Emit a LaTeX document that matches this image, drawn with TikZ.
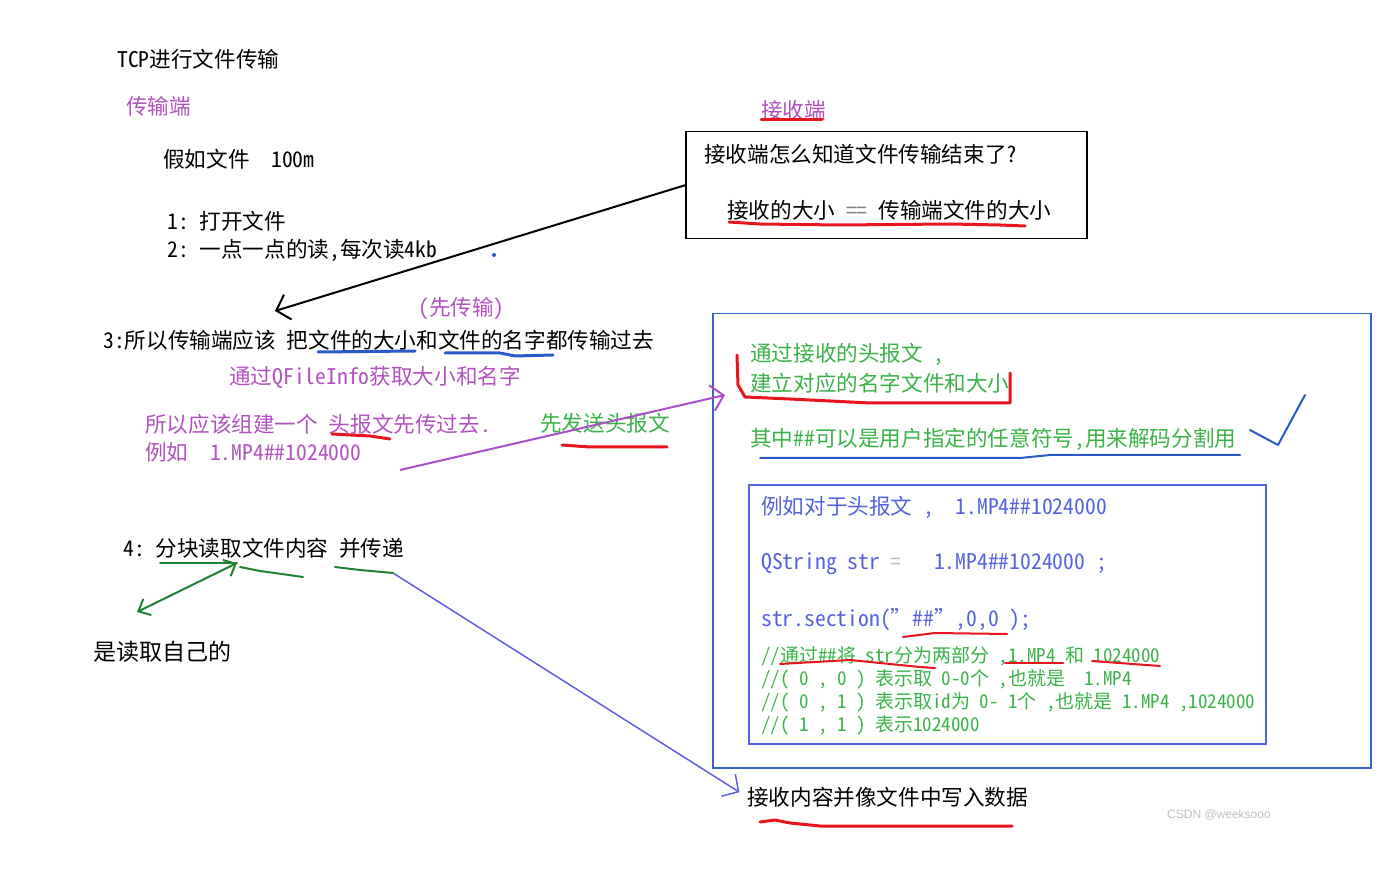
\documentclass[tikz,border=0pt]{standalone}
\usepackage{fontspec}
\setmainfont{Noto Sans CJK SC}[RawFeature=+hwid]
\newfontfamily\markfont{Liberation Sans}
\usetikzlibrary{positioning,arrows.meta}
\definecolor{notepurple}{RGB}{178,82,192}
\definecolor{notegreen}{RGB}{58,178,72}
\definecolor{codeblue}{RGB}{84,98,222}
\definecolor{boxblue}{RGB}{52,100,200}
\definecolor{penred}{RGB}{232,20,30}
\definecolor{penblue}{RGB}{40,90,200}
\definecolor{pengreen}{RGB}{30,130,50}
\definecolor{penviolet}{RGB}{95,95,225}
\definecolor{penpurple}{RGB}{170,80,200}
\definecolor{markgray}{RGB}{190,190,190}
\newcommand{\fs}[1]{\fontsize{#1}{#1}\selectfont}

\begin{document}
\begin{tikzpicture}[x=1pt,y=-1pt, every node/.style={anchor=west,inner sep=0pt,font=\fs{21.6}},
    pen/.style={line width=3pt,line cap=round,line join=round},
    note/.style={text=notegreen,font=\fs{19}},
    handtip/.style={-{Straight Barb[length=12pt,width=26pt]}}]
  \useasboundingbox (0,0) rectangle (1390,874);

  % sender side
  \node (title) at (117,59) {TCP进行文件传输};
  \node[text=notepurple] (sender) at (126,106) {传输端};
  \node (suppose) at (163,159) {假如文件\quad 100m};
  \node (stepOne) at (167,221) {1:\ 打开文件};
  \node (stepTwo) at (167,250) {2:\ 一点一点的读,每次读4kb};
  \fill[penblue] (494,255) circle (2);
  \node[text=notepurple] (first) at (418,309) {（先传输）};
  \node (stepThree) at (103,340) {3:所以传输端应该 把文件的大小和文件的名字都传输过去};
  \node[text=notepurple] (qinfo) at (229,377) {通过QFileInfo获取大小和名字};
  \node[text=notepurple] (header) at (145,424) {所以应该组建一个 头报文先传过去.};
  \node[text=notepurple] (example) at (145,452) {例如\quad 1.MP4\#\#1024000};
  \node[text=notegreen] (sendHdr) at (540,423) {先发送头报文};
  \node (stepFour) at (123,548) {4:\ 分块读取文件内容 并传递};
  \node (own) at (93,652) {\fs{23}是读取自己的};

  % receiver side
  \node[text=notepurple] (receiver) at (761,110) {接收端};
  \node[draw,line width=1.5pt,minimum width=401,minimum height=107,anchor=north west] (askbox) at (685,131) {};
  \node (askOne) at (704,154) {接收端怎么知道文件传输结束了?};
  \node (askTwo) at (727,210) {接收的大小 {\color{gray}==} 传输端文件的大小};

  \node[draw=boxblue,line width=1.5pt,minimum width=658,minimum height=454,anchor=north west] (recvbox) at (712,313) {};
  \node[text=notegreen] (buildOne) at (750,354) {通过接收的头报文 ，};
  \node[text=notegreen] (buildTwo) at (750,383) {建立对应的名字文件和大小};
  \node[text=notegreen] (anySym) at (750,439) {其中\#\#可以是用户指定的任意符号,用来解码分割用};

  \node[draw=codeblue,line width=1.5pt,minimum width=517,minimum height=259,anchor=north west] (codebox) at (748,484) {};
  \node[text=codeblue] (codeA) at (761,507) {例如对于头报文 ，\quad 1.MP4\#\#1024000};
  \node[text=codeblue] (codeB) at (761,564) {QString str {\color{markgray}=}\quad\ 1.MP4\#\#1024000 ;};
  \node[text=codeblue] (codeC) at (761,620) {str.section("\#\#",0,0 );};
  \node[note] (noteA) at (761,656) {//通过\#\#将 str分为两部分 ,1.MP4 和 1024000};
  \node[note] (noteB) at (761,679) {//( 0 , 0 ) 表示取 0-0个 ,也就是\ \ 1.MP4};
  \node[note] (noteC) at (761,702) {//( 0 , 1 ) 表示取id为 0- 1个 ,也就是 1.MP4 ,1024000};
  \node[note] (noteD) at (761,725) {//( 1 , 1 ) 表示1024000};

  \node (data) at (747,797) {接收内容并像文件中写入数据};
  \node[text=markgray,font=\markfont\fs{12}] (csdn) at (1167,815) {CSDN @weeksooo};

  % hand drawn arrows
  \coordinate (askTip) at (275,311);
  \coordinate (hdrStart) at (400,470);
  \coordinate (hdrTip) at (725,395);
  \coordinate (sendStart) at (393,573);
  \coordinate (readA) at (137,612);
  \coordinate (readB) at (237,563);
  \draw[line width=2pt,handtip] (askbox.west) -- (askTip);
  \draw[penpurple,line width=2pt,handtip] (hdrStart) -- (hdrTip);
  \draw[penviolet,line width=1.5pt,handtip,shorten >=9pt] (sendStart) -- (data.west);
  \draw[pengreen,line width=2pt,{Straight Barb[length=10pt,width=18pt]}-{Straight Barb[length=10pt,width=18pt]}] (readA) -- (readB);

  % pen marks
  \draw[pen,penred] (761,120) -- (822,120);
  \draw[pen,penred] (729,222) -- (760,224) -- (840,225) -- (950,224) -- (1000,225) -- (1025,226);
  \draw[pen,penblue] (318,352) -- (415,351);
  \draw[pen,penblue] (445,353) -- (500,353) -- (515,356) -- (553,355);
  \draw[pen,penred] (332,434) -- (370,436) -- (390,439);
  \draw[pen,penred] (562,445) -- (590,447) -- (640,447) -- (667,447);
  \draw[pen,penred] (737,355) -- (738,385) -- (745,397) -- (790,399) -- (870,403) -- (1010,403) -- (1010,373);
  \draw[pen,penblue,line width=2pt] (760,458) -- (1020,458) -- (1050,455) -- (1240,455);
  \draw[pen,penblue,line width=2pt] (1250,430) -- (1278,445) -- (1305,395);
  \draw[pen,penred,line width=2pt] (903,637) -- (935,633) -- (1007,634);
  \draw[pen,penred,line width=2pt] (780,664) -- (850,660) -- (920,667) -- (935,668);
  \draw[pen,penred,line width=2pt] (1005,663) -- (1063,663);
  \draw[pen,penred,line width=2pt] (1092,661) -- (1160,666);
  \draw[pen,pengreen,line width=2pt] (160,563) -- (237,563);
  \draw[pen,pengreen,line width=2pt] (240,567) -- (260,571) -- (303,577);
  \draw[pen,pengreen,line width=2pt] (335,567) -- (360,570) -- (393,573);
  \draw[pen,penred] (760,822) -- (775,820) -- (790,823) -- (820,826) -- (1012,826);
\end{tikzpicture}
\end{document}
